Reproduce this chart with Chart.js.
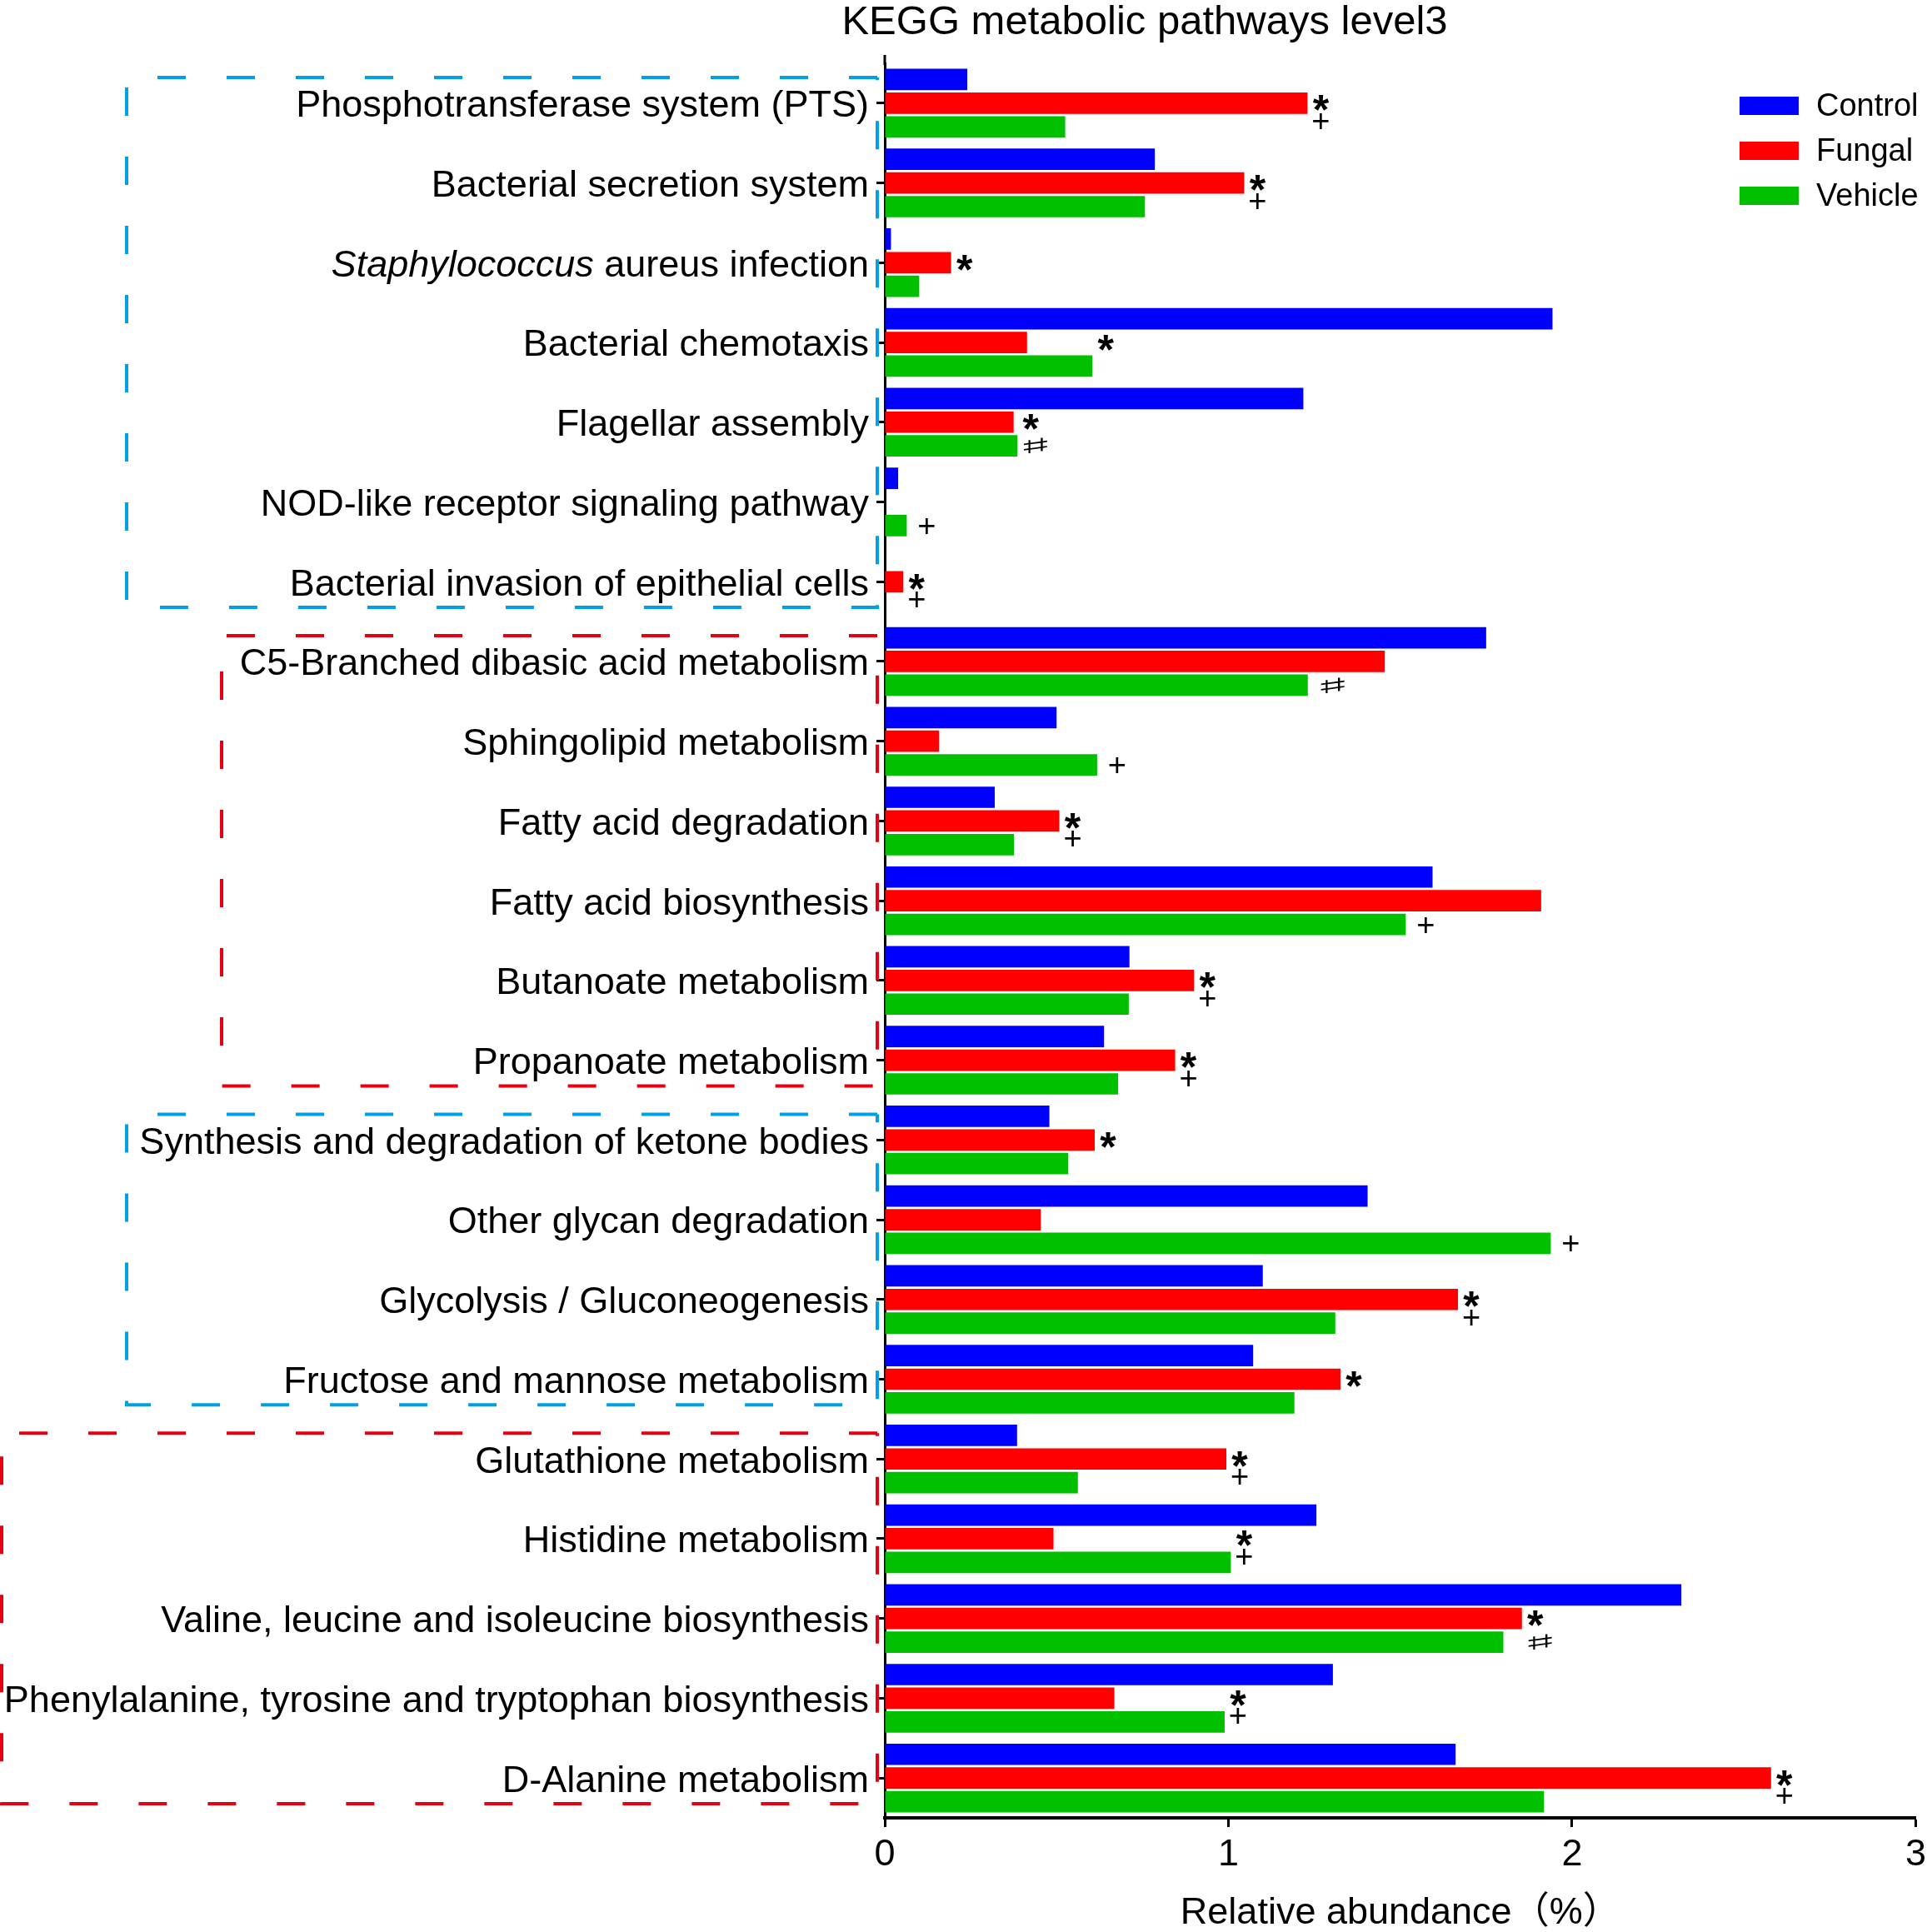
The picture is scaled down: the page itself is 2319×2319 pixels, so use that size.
<!DOCTYPE html>
<html>
<head>
<meta charset="utf-8">
<title>KEGG metabolic pathways level3</title>
<script src="https://cdn.jsdelivr.net/npm/chart.js@4.4.1/dist/chart.umd.min.js"></script>
<style>
  html, body { margin: 0; padding: 0; background: #fff; }
  canvas { display: block; }
</style>
</head>
<body>
<canvas id="keggChart" width="2319" height="2319"></canvas>
<script>
const chartTitle = 'KEGG metabolic pathways level3';
const xTitle = 'Relative abundance（%）';

const categories = [
  'Phosphotransferase system (PTS)',
  'Bacterial secretion system',
  'Staphylococcus aureus infection',
  'Bacterial chemotaxis',
  'Flagellar assembly',
  'NOD-like receptor signaling pathway',
  'Bacterial invasion of epithelial cells',
  'C5-Branched dibasic acid metabolism',
  'Sphingolipid metabolism',
  'Fatty acid degradation',
  'Fatty acid biosynthesis',
  'Butanoate metabolism',
  'Propanoate metabolism',
  'Synthesis and degradation of ketone bodies',
  'Other glycan degradation',
  'Glycolysis / Gluconeogenesis',
  'Fructose and mannose metabolism',
  'Glutathione metabolism',
  'Histidine metabolism',
  'Valine, leucine and isoleucine biosynthesis',
  'Phenylalanine, tyrosine and tryptophan biosynthesis',
  'D-Alanine metabolism'
];

const control = [0.24, 0.786, 0.018, 1.943, 1.218, 0.039, 0, 1.75, 0.5, 0.32, 1.594, 0.712, 0.638,
                 0.479, 1.405, 1.1, 1.072, 0.385, 1.256, 2.318, 1.304, 1.661];
const fungal = [1.23, 1.046, 0.193, 0.414, 0.375, 0, 0.054, 1.455, 0.158, 0.508, 1.91, 0.9, 0.845,
                0.611, 0.454, 1.668, 1.326, 0.994, 0.491, 1.854, 0.668, 2.579];
const vehicle = [0.525, 0.757, 0.1, 0.604, 0.386, 0.064, 0, 1.231, 0.618, 0.376, 1.516, 0.71, 0.679,
                 0.534, 1.938, 1.311, 1.192, 0.562, 1.007, 1.8, 0.989, 1.918];

// significance marks next to the red (fungal) and green (vehicle) bars
const fungalMarks = ['*', '*', '*', '*', '*', '', '*', '', '', '*', '', '*', '*',
                     '*', '', '*', '*', '*', '*', '*', '*', '*'];
const vehicleMarks = ['+', '+', '', '', '♯', '+', '+', '♯', '+', '+', '+', '+', '+',
                      '', '+', '+', '', '+', '+', '♯', '+', '+'];

const xTicks = [0, 1, 2, 3];

const FONT = '"Liberation Sans", Arial, "Noto Sans CJK SC", sans-serif';

// dashed group frames (first and last category of each group)
const groups = [
  { from: 0, to: 6, color: '#00A0E9', left: 152 },
  { from: 7, to: 12, color: '#E60012', left: 266 },
  { from: 13, to: 16, color: '#00A0E9', left: 152 },
  { from: 17, to: 21, color: '#E60012', left: 2 }
];

// draw a symbol with its glyph centred on (cx, cy)
function drawMark(ctx, s, cx, cy, font, sx, sy) {
  ctx.save();
  ctx.font = font;
  ctx.textAlign = 'center';
  ctx.textBaseline = 'alphabetic';
  const m = ctx.measureText(s);
  const mid = (m.actualBoundingBoxAscent - m.actualBoundingBoxDescent) / 2;
  ctx.translate(cx, cy);
  ctx.scale(sx || 1, sy || 1);
  ctx.fillText(s, 0, mid);
  ctx.restore();
}

const decor = {
  id: 'decor',
  afterDraw(chart) {
    const { ctx, chartArea, scales: { y } } = chart;
    const band = y.getPixelForValue(1) - y.getPixelForValue(0);
    ctx.save();

    // title
    ctx.fillStyle = '#000';
    ctx.font = '49px ' + FONT;
    ctx.textAlign = 'center';
    ctx.textBaseline = 'alphabetic';
    ctx.fillText(chartTitle, 1374, 41);

    // y axis line runs a little above the plot
    ctx.strokeStyle = '#000';
    ctx.lineWidth = 3;
    ctx.beginPath();
    ctx.moveTo(chartArea.left, chartArea.top - 10);
    ctx.lineTo(chartArea.left, chartArea.top + 2);
    ctx.stroke();

    // category labels
    ctx.textAlign = 'right';
    ctx.textBaseline = 'middle';
    const right = chartArea.left - 19;
    categories.forEach((c, i) => {
      const yy = y.getPixelForValue(i) + 4;
      if (c.startsWith('Staphylococcus')) {
        const rest = c.slice('Staphylococcus'.length);
        ctx.font = '45px ' + FONT;
        const w = ctx.measureText(rest).width;
        ctx.fillText(rest, right, yy);
        ctx.font = 'italic 45px ' + FONT;
        ctx.fillText('Staphylococcus', right - w, yy);
      } else {
        ctx.font = '45px ' + FONT;
        ctx.fillText(c, right, yy);
      }
    });

    // dashed frames
    ctx.lineWidth = 4;
    ctx.setLineDash([34, 49]);
    groups.forEach(g => {
      const top = y.getPixelForValue(g.from) - band / 2 + 17;
      const bottom = y.getPixelForValue(g.to) + band / 2 - 17;
      const r = chartArea.left - 9;
      ctx.strokeStyle = g.color;
      ctx.beginPath();
      ctx.moveTo(r, top);
      ctx.lineTo(g.left, top);
      ctx.lineTo(g.left, bottom);
      ctx.lineTo(r, bottom);
      ctx.lineTo(r, top);
      ctx.stroke();
    });
    ctx.setLineDash([]);

    // significance marks
    const fMeta = chart.getDatasetMeta(1).data;
    const vMeta = chart.getDatasetMeta(2).data;
    ctx.fillStyle = '#000';
    categories.forEach((c, i) => {
      const fb = fMeta[i], vb = vMeta[i];
      const fm = fungalMarks[i], vm = vehicleMarks[i];
      const end = Math.max(fb.x, vb.x);
      if (fm) {
        drawMark(ctx, fm, end + 16, fb.y, 'bold 50px ' + FONT);
      }
      if (vm) {
        let cx, cy;
        if (fm) {
          cx = end + 16;
          cy = vm === '+' ? fb.y + 0.74 * (vb.y - fb.y) : vb.y;
        } else {
          cx = vb.x + 24;
          cy = vb.y;
        }
        if (vm === '♯') {
          drawMark(ctx, vm, cx + 5, cy, '68px "DejaVu Sans", sans-serif', 1.3, 0.37);
        } else {
          drawMark(ctx, vm, cx, cy, '38px ' + FONT);
        }
      }
    });

    // legend
    const legend = chart.data.datasets;
    ctx.textAlign = 'left';
    ctx.textBaseline = 'middle';
    ctx.font = '38px ' + FONT;
    legend.forEach((ds, k) => {
      const yc = 127 + k * 54;
      ctx.fillStyle = ds.backgroundColor;
      ctx.fillRect(2088, yc - 11, 71, 22);
      ctx.fillStyle = '#000';
      ctx.fillText(ds.label, 2180, yc + 2);
    });

    ctx.restore();
  }
};

new Chart(document.getElementById('keggChart'), {
  type: 'bar',
  data: {
    labels: categories,
    datasets: [
      { label: 'Control', data: control, backgroundColor: '#0000FF' },
      { label: 'Fungal', data: fungal, backgroundColor: '#FF0000' },
      { label: 'Vehicle', data: vehicle, backgroundColor: '#00C000' }
    ]
  },
  options: {
    indexAxis: 'y',
    responsive: false,
    animation: false,
    devicePixelRatio: 1,
    layout: { padding: { top: 76, right: 15, bottom: 0, left: 0 } },
    datasets: { bar: { categoryPercentage: 0.89, barPercentage: 0.905 } },
    plugins: {
      legend: { display: false },
      title: { display: false },
      tooltip: { enabled: false }
    },
    scales: {
      x: {
        min: 0,
        max: 3,
        afterBuildTicks: s => { s.ticks = xTicks.map(v => ({ value: v })); },
        afterFit: s => { s.height = 137; },
        ticks: { color: '#000', font: { family: FONT, size: 45 }, padding: 7, maxRotation: 0 },
        grid: { drawOnChartArea: false, tickLength: 11, tickColor: '#000', tickWidth: 3 },
        border: { display: true, color: '#000', width: 4 },
        title: { display: true, text: xTitle, color: '#000', font: { family: FONT, size: 45, lineHeight: 1 }, padding: 0 }
      },
      y: {
        afterFit: s => { s.width = 1062; },
        ticks: { display: false },
        grid: { offset: false, drawOnChartArea: false, tickLength: 10, tickColor: '#000', tickWidth: 3 },
        border: { display: true, color: '#000', width: 3 }
      }
    }
  },
  plugins: [decor]
});
</script>
</body>
</html>
